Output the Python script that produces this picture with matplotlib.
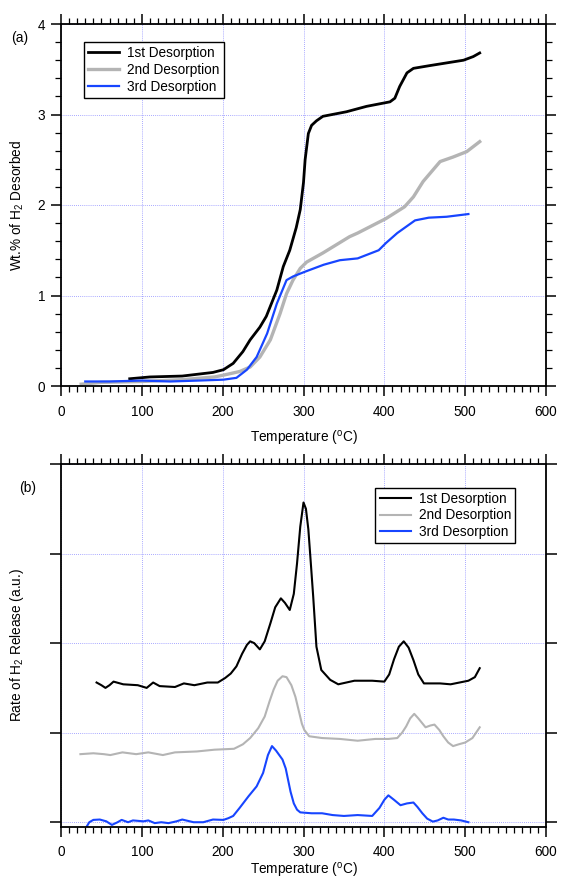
import matplotlib
matplotlib.use("Agg")
import matplotlib.pyplot as plt
from matplotlib.ticker import MultipleLocator

plt.rcParams['font.family'] = ['Liberation Sans', 'DejaVu Sans']
plt.rcParams['mathtext.default'] = 'regular'
plt.rcParams['font.size'] = 9.8

# ---------------- data: panel (a) wt.% desorbed ----------------
t1 = [85, 110, 150, 188, 201, 213, 225, 234, 246, 254, 267, 275, 283, 291, 296, 300, 302, 306, 310,
      316, 324, 353, 378, 407, 413, 419, 428, 436, 456, 477, 498, 510, 518]
w1 = [0.08, 0.10, 0.11, 0.15, 0.18, 0.25, 0.38, 0.51, 0.65, 0.77, 1.06, 1.32, 1.50, 1.75, 1.95, 2.25, 2.5, 2.79, 2.88,
      2.93, 2.98, 3.03, 3.09, 3.14, 3.18, 3.31, 3.46, 3.51, 3.54, 3.57, 3.60, 3.64, 3.68]

t2 = [25, 50, 100, 150, 190, 201, 221, 234, 246, 259, 271, 279, 287, 296, 304, 324, 357, 367, 402, 425,
      436, 448, 469, 485, 502, 518]
w2 = [0.02, 0.04, 0.05, 0.07, 0.10, 0.12, 0.16, 0.21, 0.32, 0.51, 0.80, 1.02, 1.17, 1.30, 1.37, 1.47, 1.65, 1.69,
      1.85, 1.98, 2.09, 2.26, 2.48, 2.53, 2.59, 2.70]

t3 = [30, 60, 100, 135, 170, 201, 217, 230, 242, 255, 267, 279, 287, 301, 325, 345, 367, 393, 402, 416,
      438, 455, 477, 504]
w3 = [0.05, 0.05, 0.06, 0.05, 0.06, 0.07, 0.09, 0.18, 0.32, 0.58, 0.91, 1.17, 1.21, 1.26, 1.34, 1.39, 1.41,
      1.50, 1.58, 1.69, 1.83, 1.86, 1.87, 1.90]

# ---------------- data: panel (b) rate of release (offset traces) ----------------
tb1 = [44, 50, 55, 60, 65, 77, 95, 106, 114, 122, 141, 152, 165, 181, 194, 203, 210, 217, 224, 230, 234,
       239, 246, 252, 259, 265, 272, 277, 283, 288, 292, 296, 300, 303, 306, 309, 312, 316, 322, 333, 343,
       363, 385, 400, 406, 412, 418, 424, 430, 436, 442, 449, 469, 482, 504, 512, 518]
rb1 = [1.56, 1.53, 1.50, 1.53, 1.57, 1.54, 1.53, 1.50, 1.56, 1.52, 1.51, 1.55, 1.53, 1.56, 1.56, 1.61, 1.66,
       1.74, 1.88, 1.98, 2.02, 2.00, 1.93, 2.02, 2.22, 2.40, 2.50, 2.45, 2.37, 2.55, 2.89, 3.30, 3.57, 3.50,
       3.27, 2.90, 2.52, 1.96, 1.70, 1.59, 1.54, 1.58, 1.58, 1.57, 1.65, 1.82, 1.96, 2.02, 1.95, 1.81, 1.65,
       1.55, 1.55, 1.54, 1.58, 1.62, 1.72]

tb2 = [24, 40, 53, 61, 76, 93, 108, 126, 141, 168, 190, 214, 225, 234, 244, 252, 258, 263, 268, 274, 279,
       285, 290, 294, 298, 301, 307, 323, 345, 367, 389, 405, 416, 422, 427, 432, 437, 442, 451, 457, 462,
       468, 473, 479, 485, 492, 500, 509, 518]
rb2 = [0.76, 0.77, 0.76, 0.75, 0.78, 0.76, 0.78, 0.75, 0.78, 0.79, 0.81, 0.82, 0.87, 0.94, 1.05, 1.18, 1.35,
       1.48, 1.58, 1.63, 1.62, 1.53, 1.40, 1.25, 1.10, 1.03, 0.96, 0.94, 0.93, 0.91, 0.93, 0.93, 0.94, 1.00,
       1.07, 1.16, 1.21, 1.16, 1.06, 1.08, 1.09, 1.03, 0.96, 0.89, 0.85, 0.87, 0.89, 0.94, 1.06]

tb3 = [31, 35, 40, 48, 56, 63, 70, 75, 83, 89, 102, 108, 116, 124, 133, 143, 150, 164, 176, 188, 201, 207,
       213, 221, 232, 242, 250, 256, 261, 266, 274, 278, 281, 284, 288, 292, 296, 310, 323, 336, 350, 367,
       385, 394, 400, 405, 412, 420, 428, 436, 441, 447, 453, 460, 466, 473, 479, 486, 495, 504]
rb3 = [-0.06, 0.00, 0.026, 0.03, 0.01, -0.03, 0.00, 0.026, 0.00, 0.02, 0.01, 0.02, -0.01, 0.00, -0.01, 0.01,
       0.03, 0.00, 0.00, 0.03, 0.026, 0.045, 0.07, 0.16, 0.29, 0.40, 0.55, 0.75, 0.85, 0.80, 0.70, 0.60, 0.47,
       0.34, 0.21, 0.14, 0.11, 0.10, 0.10, 0.08, 0.07, 0.08, 0.07, 0.16, 0.25, 0.30, 0.25, 0.19, 0.21, 0.22,
       0.17, 0.10, 0.04, 0.007, 0.02, 0.05, 0.03, 0.03, 0.02, 0.00]

labels = ['1st Desorption', '2nd Desorption', '3rd Desorption']
colors = ['#000000', '#b4b4b4', '#1745ff']

W, H = 561, 881
fig = plt.figure(figsize=(W / 100, H / 100), dpi=100)

def px_axes(left, top, right, bottom):
    return fig.add_axes([left / W, 1 - bottom / H, (right - left) / W, (bottom - top) / H])

ax1 = px_axes(61, 24, 546, 386)
ax2 = px_axes(61, 464, 546, 826.7)

grid_kw = dict(color='#8c8cff', linestyle=(0, (1, 1.5)), linewidth=0.6)

def style(ax):
    ax.set_xlim(0, 600)
    ax.xaxis.set_major_locator(MultipleLocator(100))
    ax.xaxis.set_minor_locator(MultipleLocator(10))
    ax.tick_params(which='both', direction='out', top=True, right=True, width=1.1, color='black')
    ax.tick_params(which='major', length=7.5, pad=4)
    ax.tick_params(which='minor', length=4.2, width=0.9)
    ax.tick_params(axis='x', which='major', pad=6)
    for s in ax.spines.values():
        s.set_linewidth(1.3)
    ax.grid(True, which='major', **grid_kw)
    ax.set_axisbelow(True)

leg_kw = dict(borderaxespad=0, fancybox=False, edgecolor='black', framealpha=1, handlelength=2.3,
              handletextpad=0.6, labelspacing=0.2, borderpad=0.3, fontsize=9.8)

# ---- panel a ----
style(ax1)
ax1.set_ylim(0, 4)
ax1.yaxis.set_major_locator(MultipleLocator(1))
ax1.yaxis.set_minor_locator(MultipleLocator(0.2))
ax1.plot(t1, w1, color=colors[0], lw=2.0, label=labels[0])
ax1.plot(t2, w2, color=colors[1], lw=2.4, label=labels[1])
ax1.plot(t3, w3, color=colors[2], lw=1.6, label=labels[2])
ax1.set_xlabel('Temperature ($^{o}$C)')
ax1.xaxis.set_label_coords(0.5, -0.118)
ax1.set_ylabel('Wt.% of H$_2$ Desorbed')
ax1.yaxis.set_label_coords(-0.072, 0.5)
leg1 = ax1.legend(loc='upper left', bbox_to_anchor=(0.047, 0.950), **leg_kw)
leg1.get_frame().set_linewidth(1.0)
fig.text(20 / W, 1 - 38 / H, '(a)', fontsize=10, ha='center', va='center')

# ---- panel b ----
style(ax2)
ax2.set_ylim(-0.05, 4)
ax2.yaxis.set_major_locator(MultipleLocator(1))
ax2.yaxis.set_minor_locator(plt.NullLocator())
ax2.tick_params(axis='y', which='major', length=8, labelleft=False)
ax2.plot(tb1, rb1, color=colors[0], lw=1.5, label=labels[0])
ax2.plot(tb2, rb2, color=colors[1], lw=1.5, label=labels[1])
ax2.plot(tb3, rb3, color=colors[2], lw=1.5, label=labels[2])
ax2.set_xlabel('Temperature ($^{o}$C)')
ax2.xaxis.set_label_coords(0.5, -0.094)
ax2.set_ylabel('Rate of H$_2$ Release (a.u.)')
ax2.yaxis.set_label_coords(-0.072, 0.5)
leg2 = ax2.legend(loc='upper right', bbox_to_anchor=(0.937, 0.935), **leg_kw)
leg2.get_frame().set_linewidth(1.0)
fig.text(28 / W, 1 - 488 / H, '(b)', fontsize=10, ha='center', va='center')

fig.savefig('out.png', dpi=100)
